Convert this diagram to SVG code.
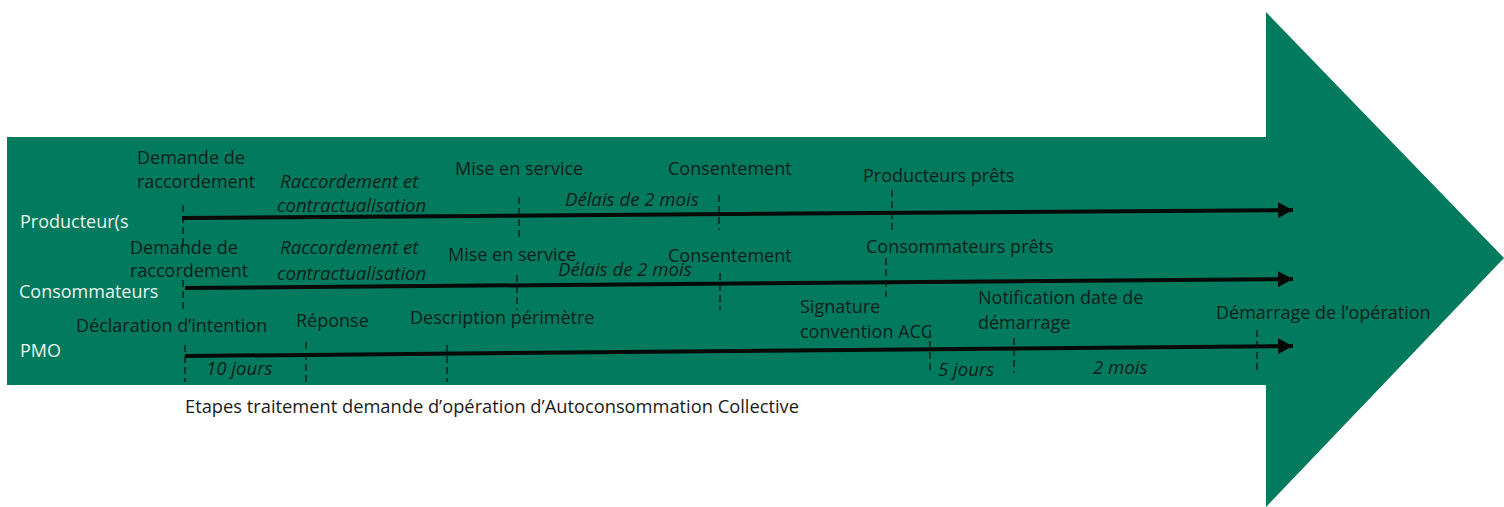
<svg xmlns="http://www.w3.org/2000/svg" width="1504" height="507" viewBox="0 0 1504 507">
<defs>
<style>
text{font-family:"Open Sans","Liberation Sans",sans-serif;font-size:18px;fill:#0f211b}
.w{fill:#e9f4ee}
.i{font-style:italic;font-size:18.6px}
.cap{fill:#1a1a1a;font-size:18.3px}
.ln{stroke:#050a08;stroke-width:4;fill:none}
.tk{stroke:#0a1510;stroke-width:1.3;stroke-dasharray:7 4;fill:none}
</style>
<marker id="ah" markerUnits="userSpaceOnUse" markerWidth="16" markerHeight="16" refX="15" refY="8" orient="auto">
<polygon points="0,0 15,8 0,16" fill="#050a08"/>
</marker>
</defs>
<rect width="1504" height="507" fill="#ffffff"/>
<g id="big-arrow">
<polygon points="7,137 1266,137 1266,12 1504,258 1266,507 1266,385 7,385" fill="#027a5d"/>
</g>
<g id="connectors">
<line class="ln" x1="182" y1="218" x2="1293" y2="210" marker-end="url(#ah)"/>
<line class="ln" x1="185" y1="288" x2="1293" y2="279" marker-end="url(#ah)"/>
<line class="ln" x1="185" y1="356" x2="1293" y2="346" marker-end="url(#ah)"/>
<line class="tk" x1="183" y1="205" x2="183" y2="246"/>
<line class="tk" x1="519" y1="197" x2="519" y2="237"/>
<line class="tk" x1="719" y1="195" x2="719" y2="230"/>
<line class="tk" x1="892" y1="190" x2="892" y2="230"/>
<line class="tk" x1="183" y1="280" x2="183" y2="310"/>
<line class="tk" x1="517" y1="275" x2="517" y2="310"/>
<line class="tk" x1="720" y1="273" x2="720" y2="310"/>
<line class="tk" x1="886" y1="258" x2="886" y2="297"/>
<line class="tk" x1="185" y1="345" x2="185" y2="382"/>
<line class="tk" x1="306" y1="342" x2="306" y2="382"/>
<line class="tk" x1="447" y1="345" x2="447" y2="382"/>
<line class="tk" x1="930" y1="330" x2="930" y2="373"/>
<line class="tk" x1="1014" y1="338" x2="1014" y2="373"/>
<line class="tk" x1="1257" y1="330" x2="1257" y2="372"/>
</g>
<g id="lane-producteurs">
<text class="w" x="20" y="228">Producteur(s</text>
<text x="137" y="164">Demande de</text>
<text x="137" y="188">raccordement</text>
<text class="i" x="280" y="188">Raccordement et</text>
<text class="i" x="277" y="212">contractualisation</text>
<text x="455" y="175">Mise en service</text>
<text x="668" y="175">Consentement</text>
<text class="i" x="565" y="206">Délais de 2 mois</text>
<text x="863" y="182">Producteurs prêts</text>
</g>
<g id="lane-consommateurs">
<text class="w" x="19" y="298">Consommateurs</text>
<text x="130" y="254">Demande de</text>
<text x="130" y="277">raccordement</text>
<text class="i" x="280" y="254">Raccordement et</text>
<text class="i" x="277" y="280">contractualisation</text>
<text x="448" y="261">Mise en service</text>
<text x="668" y="262">Consentement</text>
<text class="i" x="558" y="276">Délais de 2 mois</text>
<text x="866" y="253">Consommateurs prêts</text>
</g>
<g id="lane-pmo">
<text class="w" x="20" y="357">PMO</text>
<text x="76" y="332">Déclaration d’intention</text>
<text x="296" y="327">Réponse</text>
<text x="410" y="324">Description périmètre</text>
<text x="800" y="313">Signature</text>
<text x="800" y="338">convention ACC</text>
<text x="978" y="304">Notification date de</text>
<text x="978" y="329">démarrage</text>
<text x="1216" y="319">Démarrage de l’opération</text>
<text class="i" x="206" y="375">10 jours</text>
<text class="i" x="938" y="376">5 jours</text>
<text class="i" x="1093" y="374">2 mois</text>
</g>
<g id="caption">
<text class="cap" x="185" y="413">Etapes traitement demande d’opération d’Autoconsommation Collective</text>
</g>
</svg>
